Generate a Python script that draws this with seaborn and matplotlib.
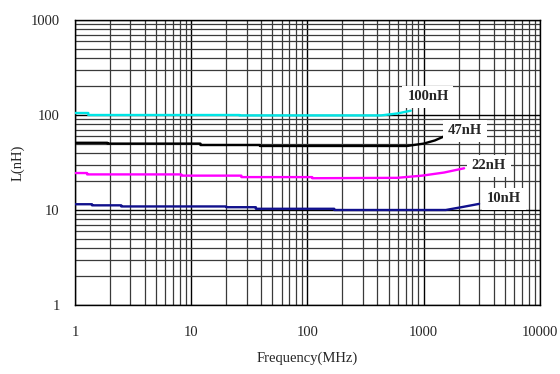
import matplotlib
matplotlib.use("Agg")
import matplotlib.pyplot as plt
import seaborn as sns
import pandas as pd
from matplotlib.ticker import LogLocator, NullFormatter, FixedLocator, FixedFormatter

# inductance curves (MHz, nH)
f_100 = [1, 1.3, 1.3, 26, 26, 430, 600, 775]
l_100 = [105, 105, 100, 100, 99, 99, 104, 111]

f_47 = [1, 1.9, 1.9, 12, 12, 39, 39, 720, 1000, 1250, 1520]
l_47 = [51, 51, 50, 50, 48.3, 48.3, 47.2, 47.2, 50, 54, 60]

f_22 = [1, 1.27, 1.27, 8.2, 8.2, 27, 27, 110, 110, 590, 970, 1500, 2230]
l_22 = [24.5, 24.5, 23.7, 23.7, 23.0, 23.0, 22.2, 22.2, 21.6, 21.8, 23.0, 24.8, 27.5]

f_10 = [1, 1.4, 1.4, 2.5, 2.5, 20, 20, 36, 36, 170, 170, 1550, 2200, 3000]
l_10 = [11.5, 11.5, 11.2, 11.2, 10.9, 10.9, 10.7, 10.7, 10.3, 10.3, 10.0, 10.0, 10.8, 11.6]

names = ["100nH", "47nH", "22nH", "10nH"]
colors = ["#00E5E5", "#000000", "#FF00FF", "#10108C"]
label_x = [1090, 2270, 3650, 4900]
label_y = [155, 68, 29.1, 13.1]

frames = []
for n, f, l in zip(names, [f_100, f_47, f_22, f_10], [l_100, l_47, l_22, l_10]):
    frames.append(pd.DataFrame({"freq": f, "L": l, "part": n}))
df = pd.concat(frames, ignore_index=True)

sns.set_style("white")
plt.rcParams["font.family"] = ["Liberation Serif", "DejaVu Serif"]

fig = plt.figure(figsize=(5.6, 3.74), dpi=100)
ax = fig.add_axes([0.134, 0.1845, 0.830, 0.762])

sns.lineplot(data=df, x="freq", y="L", hue="part", palette=dict(zip(names, colors)),
             estimator=None, sort=False, linewidth=1.7, legend=False, ax=ax, zorder=3)

ax.set_xscale("log")
ax.set_yscale("log")
ax.set_xlim(1, 10000)
ax.set_ylim(1, 1000)

ax.xaxis.set_major_locator(FixedLocator([1, 10, 100, 1000, 10000]))
ax.xaxis.set_major_formatter(FixedFormatter(["1", "10", "100", "1000", "10000"]))
ax.yaxis.set_major_locator(FixedLocator([1, 10, 100, 1000]))
ax.yaxis.set_major_formatter(FixedFormatter(["1", "10", "100", "1000"]))
ax.xaxis.set_minor_locator(LogLocator(base=10, subs=range(2, 10)))
ax.yaxis.set_minor_locator(LogLocator(base=10, subs=range(2, 10)))
ax.xaxis.set_minor_formatter(NullFormatter())
ax.yaxis.set_minor_formatter(NullFormatter())

ax.grid(True, which="major", color="black", linewidth=1.0, zorder=1)
ax.grid(True, which="minor", color="#3a3a3a", linewidth=0.9, zorder=1)
ax.set_axisbelow(True)
ax.tick_params(which="both", length=0)
ax.tick_params(axis="x", pad=15, labelsize=10.5)
ax.tick_params(axis="y", pad=11, labelsize=10.5)
for s in ax.spines.values():
    s.set_color("black")
    s.set_linewidth(1.0)

for n, x, y in zip(names, label_x, label_y):
    ax.text(x, y, n, ha="center", va="center", fontsize=10.5, fontweight="bold",
            bbox=dict(facecolor="white", edgecolor="none", pad=3.5), zorder=4)

ax.set_xlabel("Frequency(MHz)", fontsize=10.5, labelpad=9)
ax.set_ylabel("L(nH)", fontsize=10.5, labelpad=4)

fig.savefig("out.png", dpi=100)
